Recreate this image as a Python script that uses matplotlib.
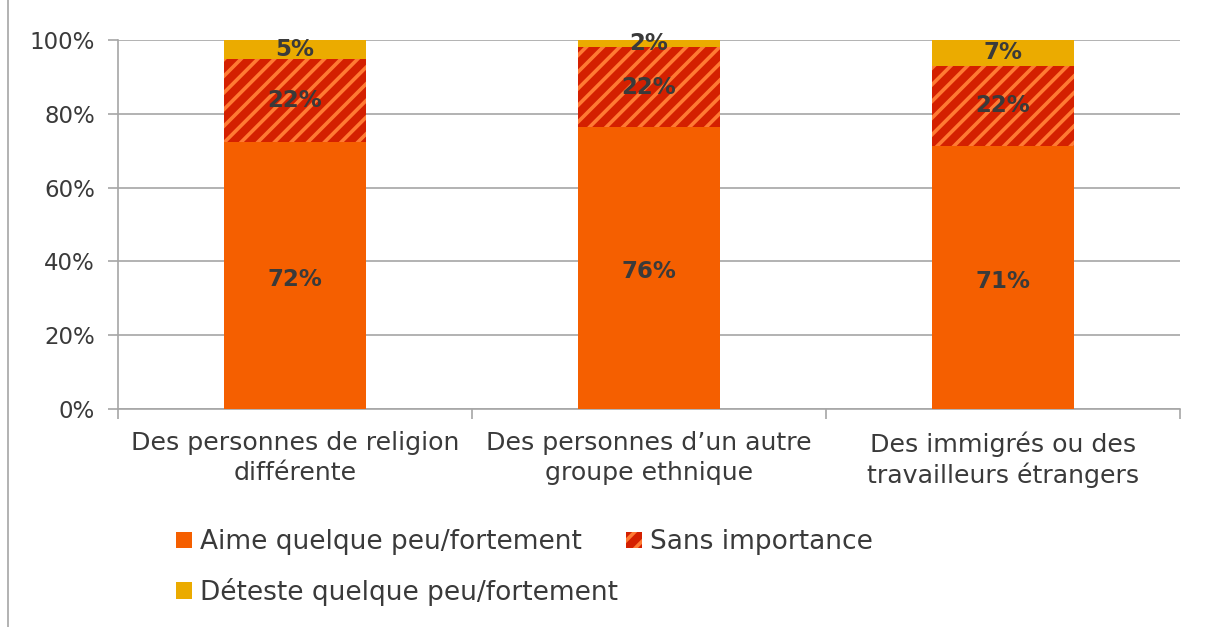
import numpy as np
import matplotlib
matplotlib.use('Agg')
from matplotlib import pyplot as plt
from matplotlib.lines import Line2D

plt.rcParams['font.family'] = ['DejaVu Sans']
plt.rcParams['hatch.linewidth'] = 2.6

categories = ['Des personnes de religion\ndifférente',
              'Des personnes d\u2019un autre\ngroupe ethnique',
              'Des immigrés ou des\ntravailleurs étrangers']
aime = [72.4, 76.4, 71.3]
sans = [22.4, 21.6, 21.7]
deteste = [5.2, 2.0, 7.0]
series_names = ['Aime quelque peu/fortement', 'Sans importance', 'Déteste quelque peu/fortement']

c_aime = '#F55F00'
c_sans = '#D42000'
c_stripe = '#FF7A33'
c_det = '#EBAB00'
txt = '#3A3A3A'
grid_c = '#A6A6A6'

fig = plt.figure(figsize=(12.11, 6.27), dpi=100)
ax = fig.add_axes([118 / 1211, 1 - 409 / 627, 1062 / 1211, 369 / 627])

x = np.arange(len(categories))
w = 0.4
b1 = ax.bar(x, aime, w, color=c_aime, label=series_names[0], zorder=3)
b2 = ax.bar(x, sans, w, bottom=aime, facecolor=c_sans, edgecolor=c_stripe,
            linewidth=0, hatch='//', label=series_names[1], zorder=3)
bottom3 = np.array(aime) + np.array(sans)
b3 = ax.bar(x, deteste, w, bottom=bottom3, color=c_det, label=series_names[2], zorder=3)

for i in range(len(categories)):
    ax.text(x[i], aime[i] / 2 - 1, f'{round(aime[i])}%', ha='center', va='center',
            fontsize=16.5, fontweight='bold', color=txt, zorder=4)
    ax.text(x[i], aime[i] + sans[i] / 2, f'{round(sans[i])}%', ha='center', va='center',
            fontsize=16.5, fontweight='bold', color=txt, zorder=4)
    ax.text(x[i], bottom3[i] + deteste[i] / 2, f'{round(deteste[i])}%', ha='center', va='center',
            fontsize=16.5, fontweight='bold', color=txt, zorder=4)

ax.set_xlim(-0.5, 2.5)
ax.set_ylim(0, 100)
ax.set_yticks(np.arange(0, 101, 20))
ax.set_yticklabels([f'{v}%' for v in range(0, 101, 20)], fontsize=16.5, color=txt)
ax.set_xticks(x)
ax.set_xticklabels(categories, fontsize=18.2, color=txt, linespacing=1.3)
ax.tick_params(axis='x', length=0, pad=16)
ax.set_xticks([-0.5, 0.5, 1.5, 2.5], minor=True)
ax.tick_params(axis='x', which='minor', length=7, color=grid_c, width=1.2)
ax.tick_params(axis='y', length=7, color=grid_c, width=1.2, pad=9.5)
ax.grid(axis='y', color=grid_c, linewidth=1.2, zorder=0)
for s in ['top', 'right']:
    ax.spines[s].set_visible(False)
for s in ['left', 'bottom']:
    ax.spines[s].set_color(grid_c)
    ax.spines[s].set_linewidth(1.2)

handles = [b1, b3, b2]
labels = [series_names[0], series_names[2], series_names[1]]
fig.legend(handles, labels, ncol=2, loc='upper left', bbox_to_anchor=(163 / 1211, 1 - 516 / 627),
           frameon=False, fontsize=19, handlelength=0.6, handleheight=0.6, handletextpad=0.3,
           columnspacing=0.3, labelspacing=0.85, labelcolor=txt, borderpad=0)

fig.add_artist(Line2D([8 / 1211, 8 / 1211], [0, 1], color=grid_c, linewidth=1.2))

fig.savefig('out.png', dpi=100)
